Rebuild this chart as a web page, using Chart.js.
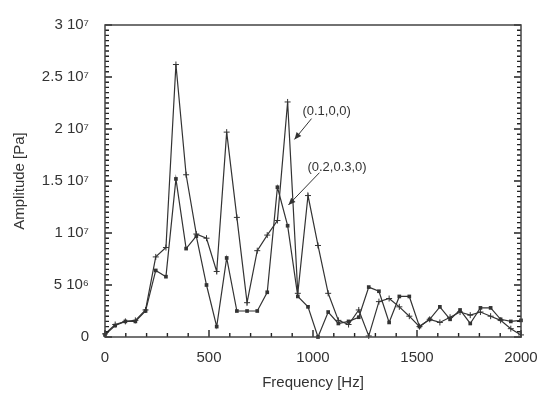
<!DOCTYPE html>
<html><head><meta charset="utf-8">
<script src="https://cdn.jsdelivr.net/npm/chart.js@4.4.0/dist/chart.umd.min.js"></script>
<style>html,body{margin:0;padding:0;background:#fff;}#wrap{width:551px;height:398px;}</style>
</head><body><div id="wrap"><canvas id="c" width="551" height="398"></canvas></div>
<script>
// Frequencies [Hz]
const frequencies = [0, 49, 98, 146, 195, 244, 293, 341, 390, 439, 488, 537, 585, 634, 683, 732, 780, 829, 878, 927, 976,
  1024, 1073, 1122, 1171, 1220, 1268, 1317, 1366, 1415, 1463, 1512, 1561, 1610, 1659, 1707, 1756, 1805, 1854, 1902, 1951, 2000];
// Amplitude [Pa] for mode (0.1,0,0)
const amplitudeA = [0.3e6, 1.2e6, 1.5e6, 1.6e6, 2.6e6, 7.7e6, 8.6e6, 26.2e6, 15.6e6, 9.9e6, 9.5e6, 6.3e6, 19.7e6, 11.5e6, 3.3e6, 8.3e6, 9.8e6, 11.2e6, 22.6e6, 4.2e6, 13.6e6,
  8.8e6, 4.2e6, 1.6e6, 1.2e6, 2.6e6, 0.1e6, 3.4e6, 3.7e6, 2.9e6, 2.0e6, 1.0e6, 1.7e6, 1.4e6, 1.9e6, 2.4e6, 2.1e6, 2.4e6, 2.0e6, 1.6e6, 0.8e6, 0.2e6];
// Amplitude [Pa] for mode (0.2,0.3,0)
const amplitudeB = [0.2e6, 1.1e6, 1.5e6, 1.5e6, 2.5e6, 6.4e6, 5.8e6, 15.2e6, 8.5e6, 9.7e6, 5.0e6, 1.0e6, 7.6e6, 2.5e6, 2.5e6, 2.5e6, 4.3e6, 14.4e6, 10.7e6, 3.9e6, 2.9e6,
  0.0, 2.4e6, 1.3e6, 1.5e6, 1.9e6, 4.8e6, 4.4e6, 1.4e6, 3.9e6, 3.9e6, 1.0e6, 1.7e6, 2.9e6, 1.7e6, 2.6e6, 1.3e6, 2.8e6, 2.8e6, 1.7e6, 1.5e6, 1.6e6];
const seriesNames = ['(0.1,0,0)', '(0.2,0.3,0)'];
const yTickValues = [0, 5e6, 1e7, 1.5e7, 2e7, 2.5e7, 3e7];
const yTickLabels = ['0', '5 10\u2076', '1 10\u2077', '1.5 10\u2077', '2 10\u2077', '2.5 10\u2077', '3 10\u2077'];
const xTickValues = [0, 500, 1000, 1500, 2000];
const xTickLabels = ['0', '500', '1000', '1500', '2000'];
// annotation anchors in data units: [labelX, labelY, arrowFromX, arrowFromY, arrowToX, arrowToY]
const annotA = [949, 21.7e6, 993, 21.0e6, 911, 19.0e6];
const annotB = [973, 16.3e6, 1031, 15.8e6, 882, 12.7e6];

const ink = '#333';
const FONT = 'Liberation Sans, Arial, Helvetica, sans-serif';

function toXY(x, y) { return x.map((v, i) => ({x: v, y: y[i]})); }

const framePlugin = {
  id: 'frame',
  afterDraw(chart) {
    const {ctx, chartArea: a, scales: {x, y}} = chart;
    ctx.save();
    ctx.strokeStyle = '#222';
    ctx.lineWidth = 1.4;
    ctx.beginPath();
    for (let i = 0; i <= 60; i++) {
      const py = y.getPixelForValue(i * 5e5);
      const len = (i % 10 === 0) ? 7 : 4;
      ctx.moveTo(a.left, py); ctx.lineTo(a.left + len, py);
      ctx.moveTo(a.right, py); ctx.lineTo(a.right - len, py);
    }
    for (let i = 0; i <= 20; i++) {
      const px = x.getPixelForValue(i * 100);
      const len = (i % 5 === 0) ? 7 : 4;
      ctx.moveTo(px, a.bottom); ctx.lineTo(px, a.bottom - len);
    }
    ctx.stroke();
    ctx.strokeStyle = '#444';
    ctx.lineWidth = 1.5;
    ctx.strokeRect(a.left, a.top, a.right - a.left, a.bottom - a.top);

    // annotations
    ctx.fillStyle = ink;
    ctx.strokeStyle = ink;
    ctx.font = '13px ' + FONT;
    ctx.textBaseline = 'middle';
    ctx.textAlign = 'left';
    [[annotA, seriesNames[0]], [annotB, seriesNames[1]]].forEach(([an, txt]) => {
      ctx.fillText(txt, x.getPixelForValue(an[0]), y.getPixelForValue(an[1]));
      const x1 = x.getPixelForValue(an[2]), y1 = y.getPixelForValue(an[3]);
      const x2 = x.getPixelForValue(an[4]), y2 = y.getPixelForValue(an[5]);
      ctx.lineWidth = 1;
      ctx.beginPath(); ctx.moveTo(x1, y1); ctx.lineTo(x2, y2); ctx.stroke();
      const ang = Math.atan2(y2 - y1, x2 - x1);
      const L = 7, W = 3;
      ctx.beginPath();
      ctx.moveTo(x2, y2);
      ctx.lineTo(x2 - L * Math.cos(ang) + W * Math.sin(ang), y2 - L * Math.sin(ang) - W * Math.cos(ang));
      ctx.lineTo(x2 - L * Math.cos(ang) - W * Math.sin(ang), y2 - L * Math.sin(ang) + W * Math.cos(ang));
      ctx.closePath(); ctx.fill();
    });
    ctx.restore();
  }
};

new Chart(document.getElementById('c'), {
  type: 'line',
  data: {
    datasets: [
      {label: seriesNames[0], data: toXY(frequencies, amplitudeA), borderColor: ink, backgroundColor: ink,
       borderWidth: 1.2, pointStyle: 'cross', pointRadius: 3, pointBorderWidth: 1, tension: 0, clip: false},
      {label: seriesNames[1], data: toXY(frequencies, amplitudeB), borderColor: ink, backgroundColor: ink,
       borderWidth: 1.2, pointStyle: 'rect', pointRadius: 2.6, pointBorderWidth: 0, tension: 0, clip: false}
    ]
  },
  options: {
    responsive: false, animation: false, devicePixelRatio: 1,
    layout: {padding: {top: 22, right: 30, left: 0, bottom: 0}},
    plugins: {legend: {display: false}, tooltip: {enabled: false}},
    scales: {
      x: {
        type: 'linear', min: 0, max: 2000,
        afterBuildTicks: s => { s.ticks = xTickValues.map(v => ({value: v})); },
        afterFit: s => { s.height = 61; },
        grid: {display: false, drawTicks: false},
        border: {display: false},
        ticks: {padding: 12, color: ink, font: {size: 15, family: FONT}, maxRotation: 0,
                callback: (v) => xTickLabels[xTickValues.indexOf(v)]},
        title: {display: true, text: 'Frequency [Hz]', color: ink, font: {size: 15, family: FONT}, padding: {top: 0, bottom: 6}}
      },
      y: {
        type: 'linear', min: 0, max: 3e7,
        afterBuildTicks: s => { s.ticks = yTickValues.map(v => ({value: v})); },
        afterFit: s => { s.width = 105; },
        grid: {display: false, drawTicks: false},
        border: {display: false},
        ticks: {padding: 16, color: ink, font: {size: 15, family: FONT},
                callback: (v) => yTickLabels[yTickValues.indexOf(v)]},
        title: {display: true, text: 'Amplitude [Pa]', color: ink, font: {size: 15, family: FONT}, padding: {top: 11, bottom: 0}}
      }
    }
  },
  plugins: [framePlugin]
});
</script></body></html>
